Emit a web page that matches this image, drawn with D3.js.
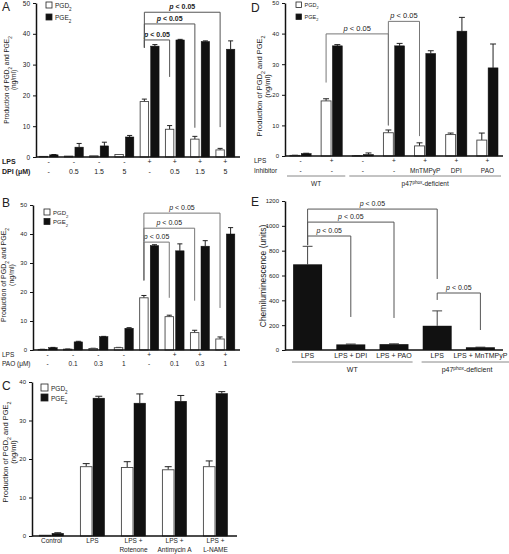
<!DOCTYPE html>
<html><head><meta charset="utf-8">
<script src="https://cdn.jsdelivr.net/npm/d3@7"></script>
<style>
body{margin:0;background:#fff}
svg{display:block}
text{font-family:"Liberation Sans",Arial,Helvetica,sans-serif;fill:#222}
</style>
</head><body>
<svg id="c" width="509" height="554"></svg>
<script>
// ---------- Panel A ----------
const aLPS = ["-","-","-","-","+","+","+","+"];
const aDPI = ["-","0.5","1.5","5","-","0.5","1.5","5"];
const aPGD2 = [0.2,0.3,0.4,0.8,18,9,5.8,2.3];
const aPGD2Err = [0,0,0,0,0.8,1.2,0.9,0.5];
const aPGE2 = [0.7,3.2,3.6,6.5,36,38,37.5,35];
const aPGE2Err = [0.1,1.2,1.2,0.5,0.5,0.2,0.2,2.7];
const aSig = [
  {from:4,to:5,top:38,leftEnd:35.5,rightEnd:26},
  {from:4,to:6,top:43.2,leftEnd:35.5,rightEnd:9.5},
  {from:4,to:7,top:47,leftEnd:35.5,rightEnd:9.7}
];
// ---------- Panel B ----------
const bLPS = ["-","-","-","-","+","+","+","+"];
const bPAO = ["-","0.1","0.3","1","-","0.1","0.3","1"];
const bPGD2 = [0.2,0.3,0.5,0.8,18,11.5,6,3.8];
const bPGD2Err = [0.05,0.05,0.1,0.1,0.8,0.5,0.8,0.7];
const bPGE2 = [0.8,2.8,4.6,7.5,36,34.2,35.8,40];
const bPGE2Err = [0.1,0.2,0.1,0.2,0.3,2.4,1.9,2.2];
const bSig = [
  {from:4,to:5,top:37.2,leftEnd:24,rightEnd:18},
  {from:4,to:6,top:42,leftEnd:24,rightEnd:17},
  {from:4,to:7,top:47.2,leftEnd:24,rightEnd:14.5}
];
// ---------- Panel C ----------
const cCats = [["Control"],["LPS"],["LPS +","Rotenone"],["LPS +","Antimycin A"],["LPS +","L-NAME"]];
const cPGD2 = [0.2,18,17.8,17.2,18];
const cPGD2Err = [0,0.8,1.5,0.8,1.5];
const cPGE2 = [0.7,35.8,34.5,35,37];
const cPGE2Err = [0.15,0.5,2.4,1.5,0.5];
// ---------- Panel D ----------
const dLPS = ["-","+","-","+","+","+","+"];
const dInh = ["-","-","-","-","MnTMPyP","DPI","PAO"];
const dPGD2 = [0.2,18,0.1,7.6,3.3,7,5.2];
const dPGD2Err = [0.05,0.7,0.05,0.9,1.0,0.5,2.3];
const dPGE2 = [0.8,36,0.5,36,33.5,40.8,28.8];
const dPGE2Err = [0.1,0.4,0.5,0.8,0.9,4.5,7.8];
const dSig = [
  {from:1,to:3,top:39.9,leftEnd:24,rightEnd:10},
  {from:3,to:4,top:44,leftEnd:10,rightEnd:6.5}
];
const dGroups = [{label:"WT",from:0,to:1},{label:"p47phox",from:2,to:6}];
// ---------- Panel E ----------
const eCats = ["LPS","LPS + DPI","LPS + PAO","LPS","LPS + MnTMPyP"];
const eVals = [690,45,47,195,22];
const eErr = [145,3,3,120,1];
const eSig = [
  {from:0,to:1,top:918,leftEnd:845,rightEnd:266},
  {from:0,to:2,top:1030,leftEnd:845,rightEnd:258},
  {from:0,to:3,top:1135,leftEnd:845,rightEnd:572},
  {from:3,to:4,top:459,leftEnd:403,rightEnd:161}
];
const eGroups = [{label:"WT",from:0,to:2},{label:"p47phox",from:3,to:4}];

const svg = d3.select("#c");

function rich(t, parts){
  parts.forEach(p=>{
    if (typeof p === "string") t.append("tspan").text(p);
    else {
      const s = t.append("tspan").attr("font-size", p.size).text(p.t);
      s.attr("baseline-shift", p.sub ? "sub" : "super");
    }
  });
}
function p47(t, fs){
  rich(t, ["p47", {t:"phox", size:fs*0.7, sub:false}, "-deficient"]);
}
function yLabel(g, x, y, fs, lines){
  const t1 = g.append("text").attr("transform",`translate(${x},${y}) rotate(-90)`)
    .attr("text-anchor","middle").attr("font-size",fs);
  rich(t1, ["Production of PGD",{t:"2",size:fs*0.7,sub:true}," and PGE",{t:"2",size:fs*0.7,sub:true}]);
  if (lines) g.append("text").attr("transform",`translate(${x+fs*1.1},${y}) rotate(-90)`)
    .attr("text-anchor","middle").attr("font-size",fs).text("(ng/ml)");
}
function legend(g, x, y, fs, box, gap){
  [["PGD","#fff"],["PGE","#111"]].forEach((d,i)=>{
    g.append("rect").attr("x",x).attr("y",y+i*gap).attr("width",box).attr("height",box)
      .attr("fill",d[1]).attr("stroke","#222").attr("stroke-width",0.8);
    const t = g.append("text").attr("x",x+box+3).attr("y",y+i*gap+box-0.5).attr("font-size",fs);
    rich(t,[d[0],{t:"2",size:fs*0.7,sub:true}]);
  });
}
function yAxis(g, y, ax, ticks, fs){
  const a = g.append("g").attr("transform",`translate(${ax},0)`)
    .call(d3.axisLeft(y).tickValues(ticks).tickSize(3).tickSizeOuter(0).tickFormat(d3.format("d")));
  a.select(".domain").attr("stroke","#111").attr("stroke-width",1.5);
  a.selectAll(".tick line").attr("stroke","#111");
  a.selectAll(".tick text").attr("font-size",fs).attr("fill","#333").attr("font-family",'"Liberation Sans",Arial,sans-serif');
}
function brackets(g, sig, xpos, y, bold, fs, color){
  sig.forEach(s=>{
    const xl = xpos(s.from), xr = xpos(s.to);
    g.append("path").attr("d",`M${xl},${y(s.leftEnd)}V${y(s.top)}H${xr}V${y(s.rightEnd)}`)
      .attr("fill","none").attr("stroke",color).attr("stroke-width",1);
    const t = g.append("text").attr("x",(xl+xr)/2).attr("y",y(s.top)-3)
      .attr("text-anchor","middle").attr("font-size",fs);
    if (bold){ t.attr("font-weight","bold"); t.append("tspan").attr("font-style","italic").text("p"); t.append("tspan").text(" < 0.05"); }
    else { t.append("tspan").attr("font-style","italic").text("p"); t.append("tspan").text(" < 0.05"); }
  });
}

function grouped(cfg){
  const g = svg.append("g");
  const n = cfg.pgd.length;
  const y = d3.scaleLinear().domain([0,cfg.ymax]).range([cfg.y0,cfg.y1]);
  const x0 = d3.scaleBand().domain(d3.range(n)).range([cfg.xs,cfg.xe]).paddingInner(cfg.pad).paddingOuter(cfg.pad/2);
  const x1 = d3.scaleBand().domain(["PGD2","PGE2"]).range([0,x0.bandwidth()]).paddingInner(cfg.pad2);
  const bw = x1.bandwidth();
  const series = [
    {key:"PGD2", vals:cfg.pgd, errs:cfg.pgdErr, fill:"#fff"},
    {key:"PGE2", vals:cfg.pge, errs:cfg.pgeErr, fill:"#111"}
  ];
  series.forEach(s=>{
    const gs = g.append("g");
    const data = s.vals.map((v,i)=>({i,v,e:s.errs[i]}));
    gs.selectAll("line.err").data(data.filter(d=>d.e>0)).join("line")
      .attr("x1",d=>x0(d.i)+x1(s.key)+bw/2).attr("x2",d=>x0(d.i)+x1(s.key)+bw/2)
      .attr("y1",d=>y(d.v)).attr("y2",d=>y(d.v+d.e)).attr("stroke","#222").attr("stroke-width",1);
    gs.selectAll("line.cap").data(data.filter(d=>d.e>0)).join("line")
      .attr("x1",d=>x0(d.i)+x1(s.key)+bw*0.2).attr("x2",d=>x0(d.i)+x1(s.key)+bw*0.8)
      .attr("y1",d=>y(d.v+d.e)).attr("y2",d=>y(d.v+d.e)).attr("stroke","#222").attr("stroke-width",1);
    gs.selectAll("rect").data(data).join("rect")
      .attr("x",d=>x0(d.i)+x1(s.key)).attr("width",bw)
      .attr("y",d=>y(d.v)).attr("height",d=>Math.max(0.5,y(0)-y(d.v)))
      .attr("fill",s.fill).attr("stroke",s.key==="PGD2"?"#444":"#111").attr("stroke-width",s.key==="PGD2"?0.9:0.5);
  });
  yAxis(g, y, cfg.ax, d3.range(0,cfg.ymax+1,10), cfg.tickFs);
  g.append("line").attr("x1",cfg.ax).attr("x2",cfg.xend).attr("y1",y(0)).attr("y2",y(0))
    .attr("stroke","#111").attr("stroke-width",1.3);
  return {g,y,x0,x1,bw};
}

// ===== Panel A =====
(function(){
  const P = grouped({pgd:aPGD2,pgdErr:aPGD2Err,pge:aPGE2,pgeErr:aPGE2Err,ymax:50,y0:157,y1:3,
    xs:36,xe:238,pad:0.25,pad2:0.2,ax:36,xend:240,tickFs:6.5});
  const g = P.g;
  brackets(g, aSig, i=>P.x0(i)+P.x1("PGD2")+P.bw/2, P.y, true, 7, "#555");
  const cx = i=>P.x0(i)+P.x0.bandwidth()/2;
  g.append("text").attr("x",2).attr("y",164).attr("font-size",7).attr("font-weight","bold").text("LPS");
  g.append("text").attr("x",2).attr("y",174).attr("font-size",7).attr("font-weight","bold").text("DPI (\u03bcM)");
  g.selectAll("text.l1").data(aLPS).join("text").attr("x",(d,i)=>cx(i)).attr("y",164).attr("text-anchor","middle").attr("font-size",7).text(d=>d);
  g.selectAll("text.l2").data(aDPI).join("text").attr("x",(d,i)=>cx(i)).attr("y",174).attr("text-anchor","middle").attr("font-size",7).text(d=>d);
  legend(g, 46, 2, 6.5, 6, 12);
  yLabel(g, 9, 80, 6.5, true);
  g.append("text").attr("x",2).attr("y",11).attr("font-size",12).text("A");
})();

// ===== Panel B =====
(function(){
  const P = grouped({pgd:bPGD2,pgdErr:bPGD2Err,pge:bPGE2,pgeErr:bPGE2Err,ymax:50,y0:350,y1:205,
    xs:35,xe:238,pad:0.25,pad2:0.2,ax:33,xend:240,tickFs:6});
  const g = P.g;
  brackets(g, bSig, i=>P.x0(i)+P.x1("PGD2")+P.bw/2, P.y, false, 7, "#777");
  const cx = i=>P.x0(i)+P.x0.bandwidth()/2;
  g.append("text").attr("x",2).attr("y",357).attr("font-size",6.5).text("LPS");
  g.append("text").attr("x",2).attr("y",366).attr("font-size",6.5).text("PAO (\u03bcM)");
  g.selectAll("text.l1").data(bLPS).join("text").attr("x",(d,i)=>cx(i)).attr("y",357).attr("text-anchor","middle").attr("font-size",6.5).text(d=>d);
  g.selectAll("text.l2").data(bPAO).join("text").attr("x",(d,i)=>cx(i)).attr("y",366).attr("text-anchor","middle").attr("font-size",6.5).text(d=>d);
  legend(g, 44, 209, 6, 6, 9.5);
  yLabel(g, 6, 275, 7, true);
  g.append("text").attr("x",2).attr("y",207).attr("font-size",12).text("B");
})();

// ===== Panel C =====
(function(){
  const P = grouped({pgd:cPGD2,pgdErr:cPGD2Err,pge:cPGE2,pgeErr:cPGE2Err,ymax:40,y0:536,y1:382,
    xs:31,xe:236,pad:0.41,pad2:0.08,ax:32,xend:237,tickFs:6});
  const g = P.g;
  const cx = i=>P.x0(i)+P.x0.bandwidth()/2;
  cCats.forEach((lines,i)=>{
    lines.forEach((s,j)=>{
      g.append("text").attr("x",cx(i)).attr("y",543+j*9).attr("text-anchor","middle").attr("font-size",6.5).text(s);
    });
  });
  legend(g, 41, 384, 6.5, 7, 10);
  yLabel(g, 8, 452, 7.5, true);
  g.append("text").attr("x",2).attr("y",390).attr("font-size",12).text("C");
})();

// ===== Panel D =====
(function(){
  const P = grouped({pgd:dPGD2,pgdErr:dPGD2Err,pge:dPGE2,pgeErr:dPGE2Err,ymax:50,y0:156,y1:3,
    xs:285,xe:503,pad:0.32,pad2:0.12,ax:285,xend:503,tickFs:6});
  const g = P.g;
  brackets(g, dSig, i=>P.x0(i)+P.x1("PGD2")+P.bw/2, P.y, false, 7.5, "#777");
  const cx = i=>P.x0(i)+P.x0.bandwidth()/2;
  g.append("text").attr("x",254).attr("y",163).attr("font-size",6.5).text("LPS");
  g.append("text").attr("x",254).attr("y",173).attr("font-size",6.5).text("Inhibitor");
  g.selectAll("text.l1").data(dLPS).join("text").attr("x",(d,i)=>cx(i)).attr("y",163).attr("text-anchor","middle").attr("font-size",6.5).text(d=>d);
  g.selectAll("text.l2").data(dInh).join("text").attr("x",(d,i)=>cx(i)).attr("y",173).attr("text-anchor","middle").attr("font-size",6.5).text(d=>d);
  const step = P.x0.step();
  dGroups.forEach(gr=>{
    const xa = cx(gr.from)-step/2+2, xb = cx(gr.to)+step/2-2;
    g.append("line").attr("x1",xa).attr("x2",xb).attr("y1",176).attr("y2",176).attr("stroke","#888").attr("stroke-width",1);
    const t = g.append("text").attr("x",(xa+xb)/2).attr("y",186).attr("text-anchor","middle").attr("font-size",6.5);
    if (gr.label==="WT") t.text("WT"); else p47(t,6.5);
  });
  legend(g, 296, 2, 5.5, 5.5, 12);
  yLabel(g, 262, 86, 7.5, true);
  g.append("text").attr("x",251).attr("y",12).attr("font-size",12).text("D");
})();

// ===== Panel E =====
(function(){
  const g = svg.append("g");
  const y = d3.scaleLinear().domain([0,1200]).range([350,201]);
  const x = d3.scaleBand().domain(d3.range(eVals.length)).range([286,502]).paddingInner(0.33).paddingOuter(0.165);
  const bw = x.bandwidth();
  const data = eVals.map((v,i)=>({i,v,e:eErr[i]}));
  g.selectAll("line.err").data(data).join("line")
    .attr("x1",d=>x(d.i)+bw/2).attr("x2",d=>x(d.i)+bw/2).attr("y1",d=>y(d.v)).attr("y2",d=>y(d.v+d.e))
    .attr("stroke","#444").attr("stroke-width",1);
  g.selectAll("line.cap").data(data).join("line")
    .attr("x1",d=>x(d.i)+bw*0.33).attr("x2",d=>x(d.i)+bw*0.67).attr("y1",d=>y(d.v+d.e)).attr("y2",d=>y(d.v+d.e))
    .attr("stroke","#444").attr("stroke-width",1);
  g.selectAll("rect").data(data).join("rect")
    .attr("x",d=>x(d.i)).attr("width",bw).attr("y",d=>y(d.v)).attr("height",d=>y(0)-y(d.v)).attr("fill","#111");
  yAxis(g, y, 285, d3.range(0,1201,200), 6);
  g.append("line").attr("x1",285).attr("x2",503).attr("y1",y(0)).attr("y2",y(0)).attr("stroke","#111").attr("stroke-width",1.3);
  brackets(g, eSig, i=>x(i)+bw/2, y, false, 7, "#555");
  g.selectAll("text.cat").data(eCats).join("text").attr("x",(d,i)=>x(i)+bw/2).attr("y",358)
    .attr("text-anchor","middle").attr("font-size",7).text(d=>d);
  const step = x.step();
  eGroups.forEach(gr=>{
    const xa = x(gr.from)+bw/2-step/2+6, xb = Math.min(509, x(gr.to)+bw/2+step/2+ (gr.to===eVals.length-1?8:-3));
    g.append("line").attr("x1",xa).attr("x2",xb).attr("y1",362).attr("y2",362).attr("stroke","#888").attr("stroke-width",1);
    const t = g.append("text").attr("x",gr.label==="WT"?(xa+xb)/2:467).attr("y",372).attr("text-anchor","middle").attr("font-size",7);
    if (gr.label==="WT") t.text("WT"); else p47(t,7);
  });
  g.append("text").attr("transform","translate(266,276) rotate(-90)").attr("text-anchor","middle")
    .attr("font-size",8.5).text("Chemiluminescence (units)");
  g.append("text").attr("x",251).attr("y",206).attr("font-size",12).text("E");
})();
</script>
</body></html>
